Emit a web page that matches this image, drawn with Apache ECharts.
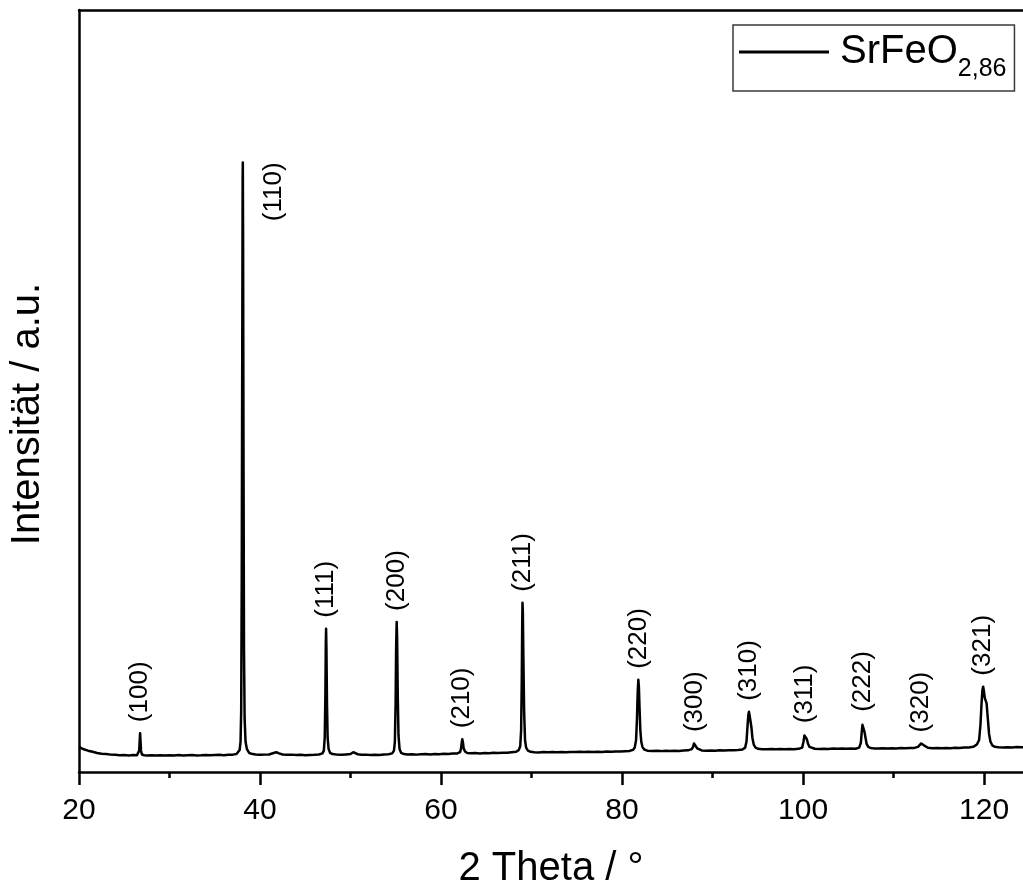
<!DOCTYPE html>
<html>
<head>
<meta charset="utf-8">
<title>SrFeO2,86 XRD</title>
<script src="https://cdn.jsdelivr.net/npm/echarts@6/dist/echarts.min.js"></script>
<style>
  html, body { margin: 0; padding: 0; background: #fff; overflow: hidden; }
  #chart { width: 1023px; height: 894px; }
</style>
</head>
<body>
<div id="chart"></div>
<script>
// Powder diffraction scan of SrFeO2,86: [2 theta in degrees, intensity in arbitrary units]
const xrdScan = [
  [20.0, 33], [20.3, 31], [20.6, 29.5], [21.0, 28], [21.5, 26.5], [22.0, 25], [22.5, 24], [23.0, 23.5],
  [23.5, 22.8], [24.0, 22.5], [24.5, 22], [25.0, 22.4], [25.5, 21.8], [26.0, 22.2], [26.4, 22],
  [26.55, 23], [26.65, 28], [26.7, 40], [26.75, 51], [26.8, 40], [26.85, 28], [26.95, 23],
  [27.2, 22], [27.5, 21.6], [28.0, 22.1], [28.5, 21.7], [29.0, 22], [29.5, 21.5], [30.0, 22], [30.5, 21.8],
  [31.0, 22.2], [31.5, 21.6], [32.0, 22], [32.5, 22.3], [33.0, 21.8], [33.5, 22], [34.0, 22.4], [34.5, 21.9],
  [35.0, 22.2], [35.5, 22.5], [36.0, 22.1], [36.5, 22.6], [37.0, 22.8], [37.4, 23.5], [37.6, 25],
  [37.75, 29], [37.85, 40], [37.92, 80], [37.98, 250], [38.03, 520], [38.08, 780], [38.1, 800],
  [38.13, 700], [38.18, 400], [38.23, 160], [38.3, 70], [38.4, 40], [38.55, 30], [38.8, 25], [39.2, 23.5],
  [39.5, 23], [40.0, 22.5], [40.5, 22.8], [41.0, 23], [41.5, 25], [41.8, 26], [42.1, 24.5], [42.5, 23],
  [43.0, 22.5], [43.5, 22.8], [44.0, 22.3], [44.5, 22.6], [45.0, 22.1], [45.5, 22.4], [46.0, 22.5],
  [46.5, 23], [46.9, 24.5],
  [47.05, 28], [47.15, 45], [47.22, 100], [47.27, 170], [47.3, 188], [47.34, 160], [47.4, 90],
  [47.47, 45], [47.58, 30], [47.75, 25], [48.0, 23.5],
  [48.5, 22.8], [49.0, 22.5], [49.5, 23], [50.0, 23.5], [50.3, 26], [50.5, 25.5], [50.8, 23.3],
  [51.2, 22.5], [51.7, 22.8], [52.2, 22.3], [52.7, 22.7], [53.2, 22.4], [53.7, 22.9], [54.2, 23.2], [54.6, 24.5],
  [54.8, 28], [54.9, 40], [54.98, 90], [55.04, 165], [55.1, 197], [55.15, 175], [55.22, 100],
  [55.3, 48], [55.42, 30], [55.6, 25], [55.9, 23.5],
  [56.3, 23], [56.8, 23.2], [57.3, 22.8], [57.8, 23.3], [58.3, 23.5], [58.8, 23.1], [59.3, 23.6],
  [59.8, 23.4], [60.3, 23.9], [60.8, 23.6], [61.3, 24.2], [61.8, 24.4], [62.1, 26],
  [62.2, 30], [62.28, 38], [62.35, 43], [62.42, 39], [62.5, 31], [62.65, 27], [62.9, 25],
  [63.3, 24.5], [63.8, 24.8], [64.3, 24.4], [64.8, 25], [65.3, 24.7], [65.8, 25.2], [66.3, 25],
  [66.8, 25.4], [67.3, 25.2], [67.8, 25.8], [68.3, 26.5], [68.6, 29],
  [68.75, 34], [68.85, 55], [68.92, 120], [68.97, 195], [69.0, 222], [69.04, 210], [69.1, 150],
  [69.18, 80], [69.28, 42], [69.4, 32], [69.6, 28], [69.9, 26.5],
  [70.3, 26], [70.8, 25.7], [71.3, 26.1], [71.8, 25.8], [72.3, 26.2], [72.8, 25.9], [73.3, 26.3],
  [73.8, 26], [74.3, 26.4], [74.8, 26.1], [75.3, 26.5], [75.8, 26.2], [76.3, 26.6], [76.8, 26.3],
  [77.3, 26.7], [77.8, 26.4], [78.3, 26.8], [78.8, 26.6], [79.3, 27], [79.8, 26.8], [80.3, 27.2],
  [80.8, 27.5], [81.2, 29],
  [81.4, 32], [81.55, 42], [81.65, 70], [81.73, 105], [81.8, 121], [81.86, 112], [81.93, 85],
  [82.02, 55], [82.12, 40], [82.25, 33], [82.45, 29.5], [82.8, 28],
  [83.3, 27.5], [83.8, 27.8], [84.3, 27.4], [84.8, 27.9], [85.3, 27.6], [85.8, 28], [86.3, 27.7],
  [86.8, 28.1], [87.3, 28.4], [87.7, 30],
  [87.85, 33], [87.95, 37.5], [88.05, 38], [88.15, 35], [88.3, 31], [88.5, 29], [88.8, 28.3],
  [89.3, 28], [89.8, 28.3], [90.3, 28], [90.8, 28.4], [91.3, 28.2], [91.8, 28.6], [92.3, 28.4],
  [92.8, 28.8], [93.3, 29.5], [93.6, 32],
  [93.75, 40], [93.85, 58], [93.95, 75], [94.02, 79], [94.1, 74], [94.2, 66], [94.3, 58],
  [94.4, 45], [94.55, 36], [94.75, 32], [95.0, 30.5],
  [95.5, 30], [96.0, 29.7], [96.5, 30.1], [97.0, 29.8], [97.5, 30.2], [98.0, 29.9], [98.5, 30.3],
  [99.0, 30], [99.5, 30.4], [99.9, 32],
  [100.05, 40], [100.15, 48], [100.22, 49.5], [100.3, 47], [100.42, 43], [100.55, 37], [100.7, 33], [100.9, 31.5],
  [101.3, 30.5], [101.8, 30.2], [102.3, 30.6], [102.8, 30.3], [103.3, 30.7], [103.8, 30.4], [104.3, 30.8],
  [104.8, 30.5], [105.3, 30.9], [105.8, 30.6], [106.2, 32],
  [106.38, 38], [106.48, 52], [106.56, 62], [106.62, 64.5], [106.7, 60], [106.8, 52], [106.9, 45],
  [107.02, 37], [107.2, 33], [107.45, 31.5],
  [107.8, 31], [108.3, 30.8], [108.8, 31.2], [109.3, 30.9], [109.8, 31.3], [110.3, 31], [110.8, 31.4],
  [111.3, 31.1], [111.8, 31.5], [112.3, 31.6], [112.7, 33],
  [112.9, 35], [113.05, 37.5], [113.2, 37], [113.35, 35], [113.55, 33], [113.8, 31.8],
  [114.3, 31.3], [114.8, 31.6], [115.3, 31.2], [115.8, 31.6], [116.3, 31.3], [116.8, 31.7], [117.3, 31.5],
  [117.8, 32], [118.3, 32.3], [118.8, 33], [119.2, 36],
  [119.45, 42], [119.6, 62], [119.72, 90], [119.82, 108], [119.9, 112], [119.98, 106], [120.08, 97],
  [120.18, 95], [120.28, 90], [120.4, 72], [120.55, 50], [120.7, 40], [120.9, 35], [121.2, 33],
  [121.6, 32.5], [122.1, 32.2], [122.6, 32.6], [123.1, 32.3], [123.6, 32.7], [124.1, 32.4],
  [124.6, 32.8], [125.1, 32.5]
];

// Miller indices of the indexed reflections and their 2 theta positions
const reflections = ['(100)', '(110)', '(111)', '(200)', '(210)', '(211)', '(220)', '(300)', '(310)', '(311)', '(222)', '(320)', '(321)'];
const reflectionPos = [26.75, 38.1, 47.3, 55.1, 62.35, 69.0, 81.8, 88.05, 94.02, 100.22, 106.62, 113.05, 119.9];

// Visible 2 theta window and the labelled ticks
const xRange = [20, 124.3];
const xTickValues = [20, 40, 60, 80, 100, 120];
const seriesName = 'SrFeO2,86';

const FONT = '"Liberation Sans", Arial, Helvetica, sans-serif';

// The label of the strongest reflection sits beside its peak rather than above it
const besidePeak = new Set(['(110)']);

// Anchor each reflection label at the top of its peak in the scan
const labelPoints = reflections.map((hkl, i) => {
  const c = reflectionPos[i];
  let top = 0;
  xrdScan.forEach(([x, y]) => { if (Math.abs(x - c) <= 0.3 && y > top) top = y; });
  const item = { value: [c, top], name: hkl };
  if (besidePeak.has(hkl)) {
    item.label = { position: 'right', distance: 31, align: 'right' };
  }
  return item;
});

const axisLineStyle = { color: '#000', width: 2.5 };

const chart = echarts.init(document.getElementById('chart'), null, { renderer: 'canvas' });

chart.setOption({
  animation: false,
  backgroundColor: '#fff',
  textStyle: { fontFamily: FONT },
  grid: { left: 79, right: 0, top: 10, bottom: 117, show: false },
  legend: {
    data: [seriesName],
    left: 733, top: 25,
    padding: [0, 8, 9, 6],
    borderColor: '#3a3a3a', borderWidth: 1.5, borderRadius: 0,
    backgroundColor: '#fff',
    icon: 'rect', itemWidth: 90, itemHeight: 3, itemGap: 0,
    formatter: () => '{a|SrFeO}{b|2,86}',
    textStyle: {
      color: '#000', fontFamily: FONT,
      rich: {
        a: { fontSize: 40, lineHeight: 54, padding: [0, 0, 0, 6], fontFamily: FONT, color: '#000' },
        b: { fontSize: 25, lineHeight: 20, verticalAlign: 'top', padding: [32, 0, 0, 0], fontFamily: FONT, color: '#000' }
      }
    }
  },
  xAxis: [
    {
      type: 'value',
      position: 'bottom',
      min: xRange[0], max: xRange[1], interval: 20,
      name: '2 Theta / °',
      nameLocation: 'middle', nameGap: 77,
      nameTextStyle: { fontSize: 40, color: '#000', fontFamily: FONT },
      axisLine: { show: true, lineStyle: axisLineStyle },
      axisTick: { show: true, inside: false, length: 13, lineStyle: axisLineStyle, customValues: xTickValues },
      minorTick: { show: true, splitNumber: 2, length: 6, lineStyle: axisLineStyle },
      axisLabel: { fontSize: 30, color: '#000', margin: 24, fontFamily: FONT, customValues: xTickValues },
      splitLine: { show: false },
      minorSplitLine: { show: false }
    },
    {
      // top frame line
      type: 'value',
      position: 'top',
      min: xRange[0], max: xRange[1],
      axisLine: { show: true, onZero: false, lineStyle: axisLineStyle },
      axisTick: { show: false },
      axisLabel: { show: false },
      splitLine: { show: false }
    }
  ],
  yAxis: {
    type: 'value',
    min: 0, max: 1000,
    name: 'Intensität / a.u.',
    nameLocation: 'middle', nameGap: 31,
    nameTextStyle: { fontSize: 40, color: '#000', fontFamily: FONT, padding: [0, 46, 0, 0] },
    axisLine: { show: true, onZero: false, lineStyle: axisLineStyle },
    axisTick: { show: false },
    axisLabel: { show: false },
    splitLine: { show: false }
  },
  series: [
    {
      name: seriesName,
      type: 'line',
      data: xrdScan,
      showSymbol: false,
      symbol: 'none',
      smooth: false,
      clip: true,
      color: '#000',
      lineStyle: { color: '#000', width: 2.5, join: 'round' },
      z: 3
    },
    {
      name: 'hkl',
      type: 'scatter',
      data: labelPoints,
      symbol: 'circle',
      symbolSize: 0,
      itemStyle: { color: '#000', opacity: 1 },
      silent: true,
      z: 4,
      label: {
        show: true,
        formatter: (p) => p.name,
        rotate: 90,
        position: 'top',
        distance: 11,
        align: 'left',
        verticalAlign: 'middle',
        padding: [5, 0, 0, 0],
        fontSize: 26,
        color: '#000',
        opacity: 1,
        fontFamily: FONT
      }
    }
  ]
});
</script>
</body>
</html>
